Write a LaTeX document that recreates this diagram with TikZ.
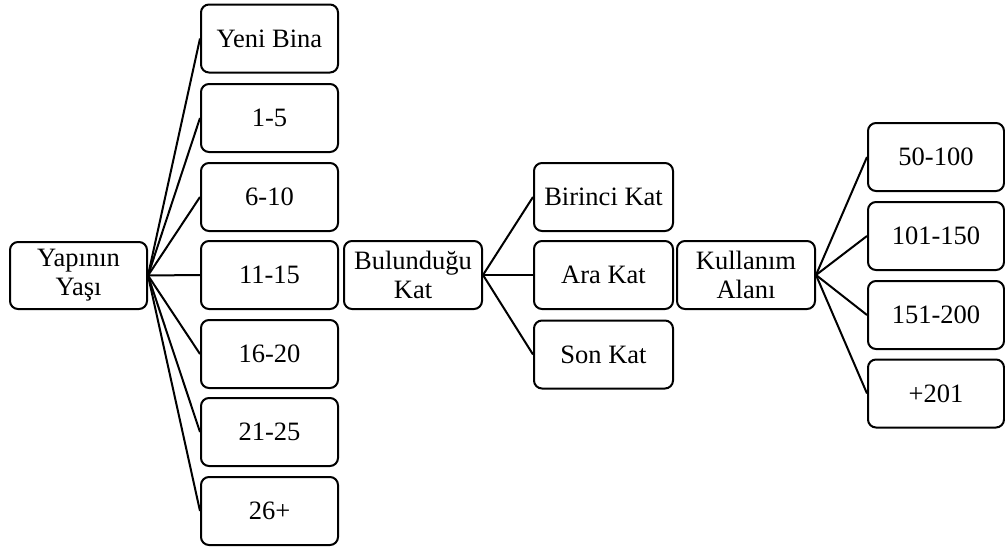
\documentclass[tikz,border=0pt]{standalone}
\usepackage{fontspec}
\setmainfont{Liberation Serif}
\begin{document}
\begin{tikzpicture}[x=1pt,y=-1pt,
  box/.style={draw, line width=2pt, rounded corners=8pt, inner sep=0pt,
    minimum width=137pt, minimum height=68pt, align=center,
    font=\fontsize{26.5}{29}\selectfont},
  link/.style={line width=2pt}]
\useasboundingbox (0,0) rectangle (1005,549);

% root
\node[box, minimum height=67pt] (yas) at (78.5,275.5) {Yapının\\Yaşı};

% building age
\node[box] (a1) at (269.5,38.5) {Yeni Bina};
\node[box] (a2) at (269.5,118) {1-5};
\node[box] (a3) at (269.5,197) {6-10};
\node[box] (a4) at (269.5,275) {11-15};
\node[box] (a5) at (269.5,354) {16-20};
\node[box] (a6) at (269.5,432) {21-25};
\node[box] (a7) at (269.5,511) {26+};

% floor
\node[box, minimum width=138pt] (bul) at (413,275) {Bulunduğu\\Kat};
\node[box, minimum width=139pt] (k1) at (603.5,197) {Birinci Kat};
\node[box, minimum width=139pt] (k2) at (603.5,275) {Ara Kat};
\node[box, minimum width=139pt] (k3) at (603.5,354.5) {Son Kat};

% usable area
\node[box, minimum width=138pt] (kul) at (746,275) {Kullanım\\Alanı};
\node[box, minimum width=136pt] (m1) at (936,157) {50-100};
\node[box, minimum width=136pt] (m2) at (936,236) {101-150};
\node[box, minimum width=136pt] (m3) at (936,315) {151-200};
\node[box, minimum width=136pt] (m4) at (936,393.5) {+201};

% connectors
\foreach \n in {a1,a2,a3,a4,a5,a6,a7}
  \draw[link] (yas.east) -- (\n.west);
\foreach \n in {k1,k2,k3}
  \draw[link] (bul.east) -- (\n.west);
\foreach \n in {m1,m2,m3,m4}
  \draw[link] (kul.east) -- (\n.west);
\end{tikzpicture}
\end{document}
